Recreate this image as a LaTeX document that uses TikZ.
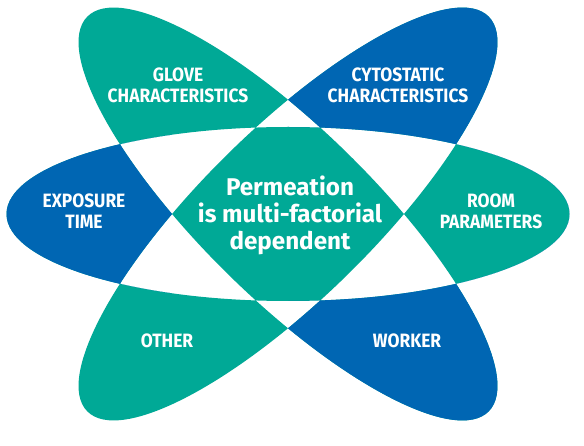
\documentclass[tikz,border=0pt]{standalone}
\usepackage{fontspec}
\newfontfamily\lblfont[FakeStretch=0.9]{Fira Sans}
\newfontfamily\ctrfont{Fira Sans}
\definecolor{tealA}{RGB}{0,169,150}
\definecolor{blueA}{RGB}{0,102,179}
\def\petalpath{(288,231) ellipse [x radius=281.5,y radius=87]
  {[rotate around={44.5:(288,231)}] (288,231) ellipse [x radius=281.5,y radius=85]}
  {[rotate around={-44.5:(288,231)}] (288,231) ellipse [x radius=281.5,y radius=85]}}
\begin{document}
\begin{tikzpicture}[x=1pt,y=1pt,
  lbl/.style={text=white,font=\lblfont\bfseries\fontsize{19.3}{21}\selectfont,anchor=base,inner sep=0pt},
  ctr/.style={text=white,font=\ctrfont\bfseries\fontsize{24.2}{27}\selectfont,anchor=base,inner sep=0pt}]
\useasboundingbox (0,0) rectangle (584,445);
\fill[white] (0,0) rectangle (584,445);
% all regions (odd count) in teal
\fill[tealA,even odd rule] \petalpath;
% exposure time petal (blue)
\begin{scope}
  \clip (288,231) ellipse [x radius=281.5,y radius=87];
  \clip (-10,-10) rectangle (171.8,460);
  \fill[blueA,even odd rule] \petalpath;
\end{scope}
% cytostatic petal (blue)
\begin{scope}
  \clip (288,318) arc[start angle=90,end angle=0,x radius=281.5,y radius=87] -- (600,231) -- (600,460) -- (288,460) -- cycle;
  \fill[blueA,even odd rule] \petalpath;
\end{scope}
% worker petal (blue)
\begin{scope}
  \clip (288,144) arc[start angle=-90,end angle=0,x radius=281.5,y radius=87] -- (600,231) -- (600,-20) -- (288,-20) -- cycle;
  \fill[blueA,even odd rule] \petalpath;
\end{scope}
% labels
\node[lbl] (glove1) at (178,363) {GLOVE};
\node[lbl] (glove2) at (178,342) {CHARACTERISTICS};
\node[lbl] (cyto1) at (398,363) {CYTOSTATIC};
\node[lbl] (cyto2) at (398,342) {CHARACTERISTICS};
\node[lbl] (expo1) at (84,237) {EXPOSURE};
\node[lbl] (expo2) at (84,216) {TIME};
\node[lbl] (room1) at (491,237) {ROOM};
\node[lbl] (room2) at (491,216.5) {PARAMETERS};
\node[lbl] (other) at (167,98) {OTHER};
\node[lbl] (worker) at (407,98) {WORKER};
\node[ctr] (perm1) at (290,249) {Permeation};
\node[ctr] (perm2) at (290,222) {is multi-factorial};
\node[ctr] (perm3) at (290,195.5) {dependent};
\end{tikzpicture}
\end{document}
